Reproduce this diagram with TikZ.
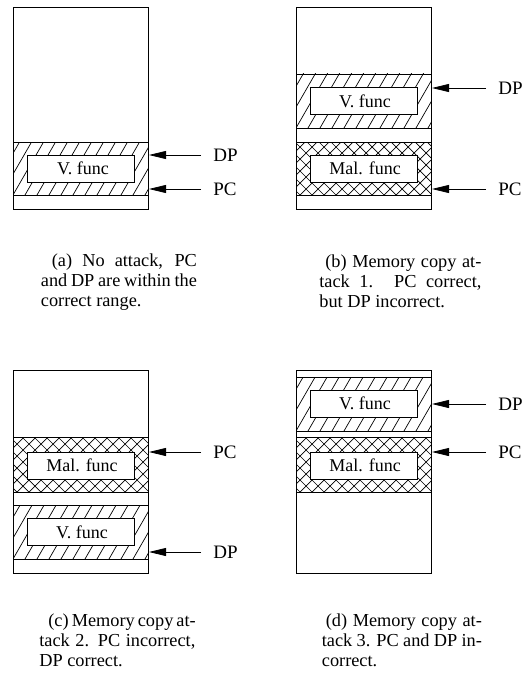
\documentclass[tikz,border=0pt]{standalone}
\usepackage{fontspec}
\setmainfont{Liberation Serif}
\usetikzlibrary{arrows.meta}
\newcommand\slashband[4]{%
  \begin{scope}
    \clip (#1,#2) rectangle (#3,#4);
    \foreach \i in {-4,...,16} \draw[hatch] (#1+\i*12,#4) -- ++(34.6,-60);
  \end{scope}
  \draw (#1,#2) rectangle (#3,#4);}
\newcommand\crossband[4]{%
  \begin{scope}
    \clip (#1,#2) rectangle (#3,#4);
    \foreach \i in {-6,...,17} {\draw[hatch] (#1+\i*12+4,#4) -- ++(60,-60);
      \draw[hatch] (#1+\i*12+4,#4) -- ++(-60,-60);}
  \end{scope}
  \draw (#1,#2) rectangle (#3,#4);}
\newcommand\jline[2]{{\spaceskip=0pt\xspaceskip=0pt\makebox[#1][s]{#2}}}
\begin{document}
\begin{tikzpicture}[x=1pt,y=-1pt,line width=0.8pt,
  hatch/.style={line width=0.7pt},
  fbox/.style={draw,fill=white,minimum width=107pt,minimum height=27pt,inner sep=0pt,
    font=\fontsize{18}{20}\selectfont},
  lbl/.style={anchor=west,inner sep=0pt,font=\fontsize{19}{20}\selectfont},
  ptr/.style={-{Triangle[length=17pt,width=8pt]}},
  captext/.style={anchor=north west,inner sep=0pt,align=left,
    font=\fontsize{18.3}{20}\selectfont}]
\useasboundingbox (0,0) rectangle (530,674);
% ---------- (a)
\draw (13,7) rectangle (148,209);
\slashband{13}{142}{148}{195}
\node[fbox] (va) at (80.5,168.5) {\hspace*{5pt}V. func};
\coordinate (adpt) at (149,155);
\coordinate (apct) at (149,189);
\node[lbl] (adp) at (213,155) {DP};
\node[lbl] (apc) at (213,189) {PC};
\draw[ptr] ([xshift=-12pt]adp.west) -- (adpt);
\draw[ptr] ([xshift=-12pt]apc.west) -- (apct);
\node[captext,text width=156pt] (capa) at (40.5,253)
  {\jline{156pt}{\hspace*{11pt}(a) No attack, PC}\\ \jline{156pt}{and DP are within the}\\ {\spaceskip=0pt correct range.}};
% ---------- (b)
\draw (296,7) rectangle (431,209);
\slashband{296}{74}{431}{128}
\node[fbox] (vb) at (363.5,101) {\hspace*{3pt}V. func};
\crossband{296}{142}{431}{195}
\node[fbox] (mb) at (363.5,168.5) {\hspace*{3pt}Mal. func};
\coordinate (bdpt) at (432,88);
\coordinate (bpct) at (432,189);
\node[lbl] (bdp) at (498,88) {DP};
\node[lbl] (bpc) at (498,189) {PC};
\draw[ptr] ([xshift=-12pt]bdp.west) -- (bdpt);
\draw[ptr] ([xshift=-12pt]bpc.west) -- (bpct);
\node[captext,text width=162pt] (capb) at (319,254)
  {\jline{162pt}{\hspace*{6pt}(b) Memory copy at-}\\ \jline{162pt}{tack 1. PC correct,}\\ {\spaceskip=0pt but DP incorrect.}};
% ---------- (c)
\draw (13,370) rectangle (148,573);
\crossband{13}{437}{148}{492}
\node[fbox] (mc) at (80.5,465.5) {\hspace*{3pt}Mal. func};
\slashband{13}{505}{148}{559}
\node[fbox] (vc) at (80.5,532) {\hspace*{3pt}V. func};
\coordinate (cpct) at (149,452);
\coordinate (cdpt) at (149,552);
\node[lbl] (cpc) at (213,452) {PC};
\node[lbl] (cdp) at (213,552) {DP};
\draw[ptr] ([xshift=-12pt]cpc.west) -- (cpct);
\draw[ptr] ([xshift=-12pt]cdp.west) -- (cdpt);
\node[captext,text width=156pt] (capc) at (39,613)
  {\jline{156pt}{\hspace*{9pt}(c) Memory copy at-}\\ \jline{156pt}{tack 2. PC incorrect,}\\ {\spaceskip=0pt DP correct.}};
% ---------- (d)
\draw (296,370) rectangle (431,573);
\slashband{296}{377}{431}{431}
\node[fbox] (vd) at (363.5,403.5) {\hspace*{3pt}V. func};
\crossband{296}{437}{431}{492}
\node[fbox] (md) at (363.5,465.5) {\hspace*{3pt}Mal. func};
\coordinate (ddpt) at (432,404);
\coordinate (dpct) at (432,452);
\node[lbl] (ddp) at (498,404) {DP};
\node[lbl] (dpc) at (498,452) {PC};
\draw[ptr] ([xshift=-12pt]ddp.west) -- (ddpt);
\draw[ptr] ([xshift=-12pt]dpc.west) -- (dpct);
\node[captext,text width=160pt] (capd) at (321.5,613)
  {\jline{160pt}{\hspace*{4pt}(d) Memory copy at-}\\ \jline{160pt}{tack 3. PC and DP in-}\\ {\spaceskip=0pt correct.}};
\end{tikzpicture}
\end{document}
